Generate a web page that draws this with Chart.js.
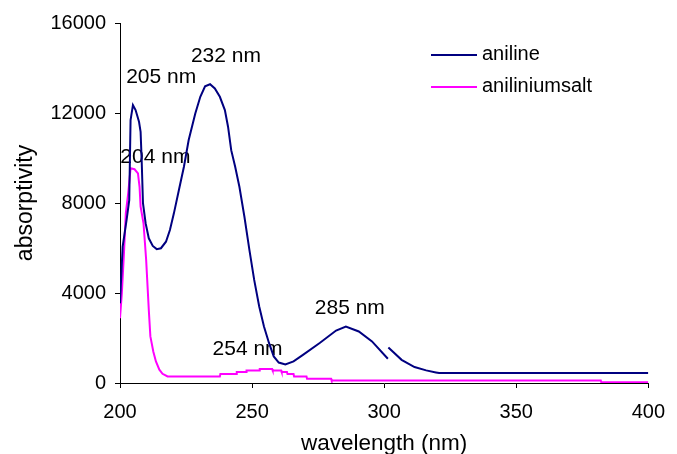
<!DOCTYPE html>
<html>
<head>
<meta charset="utf-8">
<title>Aniline / anilinium salt UV spectra</title>
<script src="https://cdn.jsdelivr.net/npm/chart.js@4.4.1/dist/chart.umd.min.js"></script>
<style>
  html, body { margin: 0; padding: 0; background: #fff; }
  #wrap { width: 677px; height: 454px; }
</style>
</head>
<body>
<div id="wrap"><canvas id="spectrum" width="677" height="454"></canvas></div>
<script>
// ============================================================
//  UV spectra — aniline vs anilinium salt
// ============================================================

const seriesNames = ["aniline", "aniliniumsalt"];

// aniline (null = break in the trace near 301 nm)
const anilineNm  = [200.0, 201.0, 202.5, 203.5, 204.0, 204.9, 205.9, 207.2, 207.8, 208.2,
                    208.7, 209.7, 210.9, 212.4, 213.9, 215.5, 217.4, 218.9, 220.4, 222.3,
                    224.2, 226.0, 228.5, 230.4, 232.2, 234.1, 235.9, 237.8, 239.7, 240.9,
                    242.1, 243.6, 245.2, 247.1, 249.0, 250.8, 252.7, 254.5, 256.4, 258.2,
                    260.1, 262.6, 265.7, 269.4, 275.6, 281.8, 285.5, 290.4, 295.4, 301.4,
                    301.5, 301.6, 306.6, 311.5, 315.9, 319.6, 320.8, 400.0];
const anilineAbs = [3550, 6060, 7250, 8130, 11680, 12350, 12130, 11610, 11160, 9910,
                    7990, 7100, 6430, 6090, 5950, 5990, 6280, 6800, 7540, 8580,
                    9610, 10800, 11980, 12720, 13190, 13280, 13090, 12720, 12130, 11390,
                    10350, 9610, 8720, 7390, 5910, 4580, 3400, 2510, 1780, 1180,
                    910, 820, 960, 1260, 1780, 2330, 2510, 2290, 1850, 1080,
                    null, 1580, 1030, 710, 560, 470, 440, 440];

// anilinium salt
const saltNm  = [200.0, 200.7, 201.5, 202.2, 203.1, 204.0, 205.5, 206.8, 207.4, 207.8,
                 208.9, 209.9, 210.9, 211.5, 212.6, 213.6, 214.9, 216.1, 218.0, 237.8,
                 238.0, 244.0, 244.2, 247.7, 247.9, 252.7, 252.9, 257.6, 257.8, 261.0,
                 261.2, 263.2, 263.4, 265.7, 265.9, 270.6, 270.8, 279.9, 280.1, 382.0,
                 382.2, 400.0];
const saltAbs = [2880, 3990, 5770, 7540, 8430, 9540, 9500, 9320, 8720, 7840,
                 7100, 5470, 3250, 2070, 1400, 960, 590, 410, 290, 290,
                 400, 400, 490, 490, 560, 560, 620, 620, 560, 560,
                 490, 490, 400, 400, 290, 290, 190, 190, 115, 115,
                 30, 30];

const xTicks = [200, 250, 300, 350, 400];
const yTicks = [0, 4000, 8000, 12000, 16000];

const peakText = ["205 nm", "232 nm", "204 nm", "254 nm", "285 nm"];

const FONT = "'Liberation Sans', Arial, sans-serif";
Chart.defaults.font.family = FONT;
Chart.defaults.color = "#000";

const toPoints = (xs, ys) => xs.map((x, i) => ({ x, y: ys[i] }));

// peak captions + legend, drawn through the scales
const annotate = {
  id: "annotate",
  beforeDatasetsDraw(chart, args, opts) {
    const { ctx, scales: { x, y } } = chart;
    ctx.save();
    ctx.font = `21px ${FONT}`;
    ctx.fillStyle = "#000";
    ctx.textAlign = "center";
    ctx.textBaseline = "middle";
    peakText.forEach((t, i) => {
      const [nm, v] = opts.anchors[i];
      ctx.fillText(t, x.getPixelForValue(nm), y.getPixelForValue(v));
    });
    ctx.restore();
  },
  afterDatasetsDraw(chart, args, opts) {
    const { ctx } = chart;
    const lg = opts.legend;
    ctx.save();
    ctx.font = `20px ${FONT}`;
    ctx.textAlign = "left";
    ctx.textBaseline = "middle";
    chart.data.datasets.forEach((ds, i) => {
      const yy = lg.y + i * lg.gap;
      ctx.strokeStyle = ds.borderColor;
      ctx.lineWidth = 2;
      ctx.beginPath();
      ctx.moveTo(lg.x, yy);
      ctx.lineTo(lg.x + lg.len, yy);
      ctx.stroke();
      ctx.fillStyle = "#000";
      ctx.fillText(ds.label, lg.x + lg.len + 5, yy - 1);
    });
    ctx.restore();
  }
};

new Chart(document.getElementById("spectrum"), {
  type: "line",
  data: {
    datasets: [
      {
        label: seriesNames[0],
        data: toPoints(anilineNm, anilineAbs),
        borderColor: "#000080",
        borderWidth: 2,
        pointRadius: 0,
        tension: 0,
        spanGaps: false
      },
      {
        label: seriesNames[1],
        data: toPoints(saltNm, saltAbs),
        borderColor: "#ff00ff",
        borderWidth: 2,
        pointRadius: 0,
        tension: 0
      }
    ]
  },
  options: {
    responsive: false,
    animation: false,
    layout: { padding: { top: 23, right: 19, bottom: 0, left: 0 } },
    plugins: {
      legend: { display: false },
      tooltip: { enabled: false },
      annotate: {
        anchors: [[215.6, 13590], [240.1, 14530], [213.4, 10040], [248.3, 1522], [287.0, 3341]],
        legend: { x: 431, y: 55, len: 46, gap: 32 }
      }
    },
    scales: {
      x: {
        type: "linear",
        min: xTicks[0],
        max: xTicks[xTicks.length - 1],
        afterBuildTicks: s => { s.ticks = xTicks.map(v => ({ value: v })); },
        afterFit: s => { s.height = 71; },
        grid: { drawOnChartArea: false, drawTicks: true, tickLength: 5, color: "#000" },
        border: { display: true, color: "#000", width: 1 },
        ticks: { font: { size: 20 }, padding: 12, maxRotation: 0, callback: v => String(v) },
        title: {
          display: true,
          text: "wavelength (nm)",
          font: { size: 22.5 },
          padding: { top: 0, bottom: -3 }
        }
      },
      y: {
        min: yTicks[0],
        max: yTicks[yTicks.length - 1],
        afterBuildTicks: s => { s.ticks = yTicks.map(v => ({ value: v })); },
        afterFit: s => { s.width = 120; },
        grid: { drawOnChartArea: false, drawTicks: true, tickLength: 5, color: "#000" },
        border: { display: true, color: "#000", width: 1 },
        ticks: { font: { size: 20 }, padding: 9, callback: v => String(v) },
        title: {
          display: true,
          text: "absorptivity",
          font: { size: 23 },
          padding: { top: 12, bottom: 0 }
        }
      }
    }
  },
  plugins: [annotate]
});
</script>
</body>
</html>
